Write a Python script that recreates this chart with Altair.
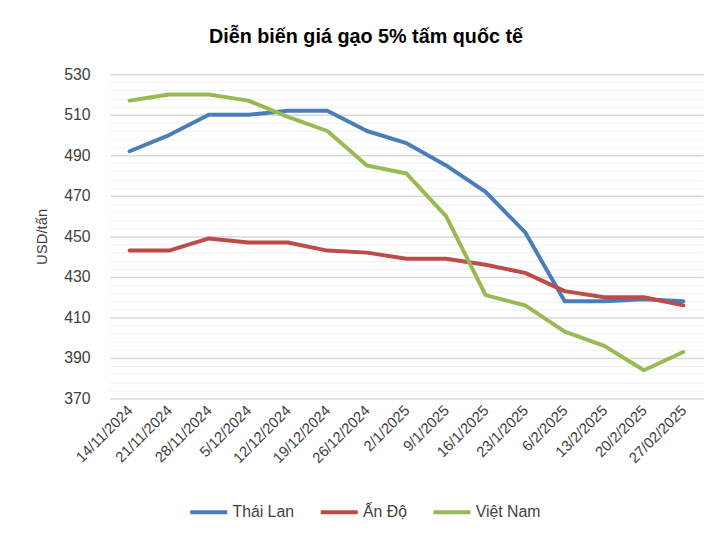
import altair as alt
import pandas as pd

dates = ["14/11/2024", "21/11/2024", "28/11/2024", "5/12/2024", "12/12/2024",
         "19/12/2024", "26/12/2024", "2/1/2025", "9/1/2025", "16/1/2025",
         "23/1/2025", "6/2/2025", "13/2/2025", "20/2/2025", "27/02/2025"]
thai_lan = [492, 500, 510, 510, 512, 512, 502, 496, 485, 472, 452, 418, 418, 419, 418]
an_do = [443, 443, 449, 447, 447, 443, 442, 439, 439, 436, 432, 423, 420, 420, 416]
viet_nam = [517, 520, 520, 517, 509, 502, 485, 481, 460, 421, 416, 403, 396, 384, 393]
series_names = ["Thái Lan", "Ấn Độ", "Việt Nam"]
series_colors = ["#4a7ebb", "#be4b48", "#98b954"]
y_ticks = list(range(370, 531, 4))

rows = []
for name, vals in zip(series_names, [thai_lan, an_do, viet_nam]):
    for d, v in zip(dates, vals):
        rows.append({"Ngày": d, "Giá": v, "Nước": name})
df = pd.DataFrame(rows)

FONT = "Liberation Sans, Arial, sans-serif"

chart = alt.Chart(df).mark_line(strokeWidth=4, strokeCap="round", strokeJoin="round").encode(
    x=alt.X("Ngày:N", sort=dates,
            scale=alt.Scale(type="point", padding=0.5),
            axis=alt.Axis(title=None, labelAngle=315, labelAlign="right", labelBaseline="middle",
                          labelFontSize=15, labelColor="#404040", labelFont=FONT,
                          domain=False, ticks=False, grid=False, labelPadding=9)),
    y=alt.Y("Giá:Q",
            scale=alt.Scale(domain=[370, 530], nice=False, zero=False),
            axis=alt.Axis(values=y_ticks, title="USD/tấn",
                          labelExpr="(datum.value - 370) % 20 == 0 ? datum.label : ''",
                          labelFontSize=16, labelColor="#404040", labelFont=FONT,
                          labelPadding=20, domain=False, ticks=False,
                          gridColor={"condition": {"test": "(datum.value - 370) % 20 == 0", "value": "#d9d9d9"},
                                     "value": "#f0f0f0"},
                          gridWidth={"condition": {"test": "(datum.value - 370) % 20 == 0", "value": 1.5},
                                     "value": 1},
                          titleFont=FONT, titleFontSize=15, titleFontWeight="normal",
                          titleColor="#404040", titleX=-69, titleY=164,
                          titleAlign="center", titleBaseline="middle", titleAngle=270)),
    color=alt.Color("Nước:N", sort=series_names,
                    scale=alt.Scale(domain=series_names, range=series_colors),
                    legend=alt.Legend(title=None, orient="none", direction="horizontal",
                                      legendX=79, legendY=422,
                                      symbolType="stroke", symbolSize=1400, symbolStrokeWidth=4,
                                      labelFontSize=16, labelFont=FONT, labelColor="#404040",
                                      labelOffset=3, columnPadding=18)),
).properties(
    width=600, height=328,
    title=alt.TitleParams("Diễn biến giá gạo 5%  tấm quốc tế", font=FONT, fontSize=20,
                          fontWeight="bold", color="#000000", anchor="middle", dx=-41, offset=20),
    autosize=alt.AutoSizeParams(type="none"),
    padding={"left": 103, "top": 64, "right": 14, "bottom": 136},
    background="white",
).configure_view(stroke=None)

chart.save("out.html", embed_options={"renderer": "svg", "actions": False})
